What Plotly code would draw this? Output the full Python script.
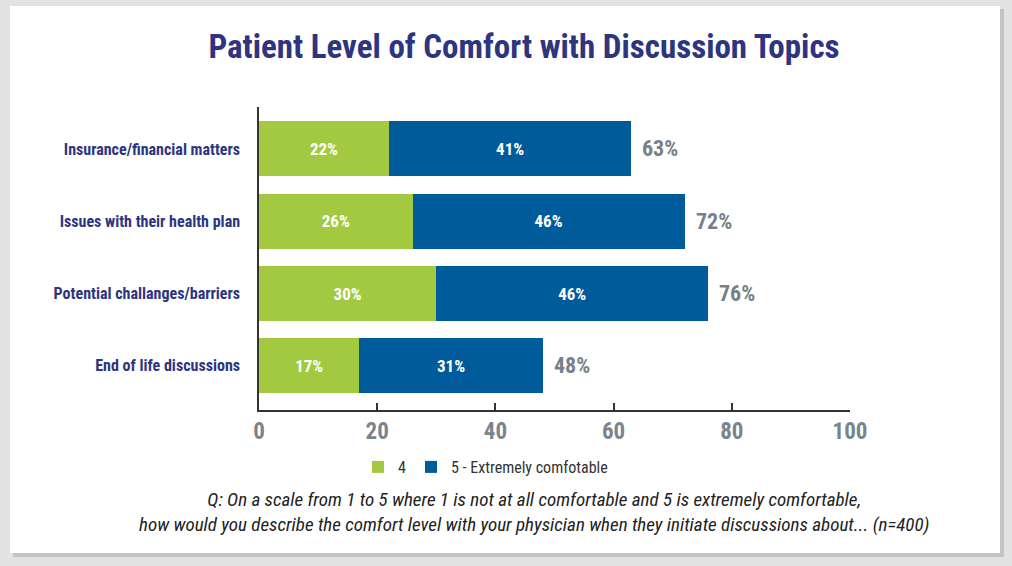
import plotly.graph_objects as go

categories = ["Insurance/financial matters", "Issues with their health plan",
              "Potential challanges/barriers", "End of life discussions"]
rating_4 = [22, 26, 30, 17]
rating_5 = [41, 46, 46, 31]
series_names = ["4", "5 - Extremely comfotable"]
x_ticks = [0, 20, 40, 60, 80, 100]

totals = [a + b for a, b in zip(rating_4, rating_5)]

COND = "Roboto Condensed, Open Sans Condensed, sans-serif"
GREEN = "#a3c940"
BLUE = "#005b9a"
NAVY = "#2e3580"
GRAY = "#76808a"

fig = go.Figure()
for vals, name, color in [(rating_4, series_names[0], GREEN), (rating_5, series_names[1], BLUE)]:
    fig.add_trace(go.Bar(
        y=categories, x=vals, orientation="h", name=name,
        marker=dict(color=color, line=dict(width=0)),
        texttemplate="%{x}%", textposition="inside", insidetextanchor="middle",
        textangle=0, textfont=dict(family=COND, size=17, color="white", weight="bold"),
        hoverinfo="skip",
    ))

for c, t in zip(categories, totals):
    fig.add_annotation(x=t, y=c, xref="x", yref="y", text=f"{t}%", showarrow=False,
                       xanchor="left", xshift=9,
                       font=dict(family=COND, size=22, color=GRAY, weight="bold"))

# footnote
fig.add_annotation(
    x=(534 - 259) / 591, y=(410 - 512) / 303, xref="paper", yref="paper", showarrow=False,
    xanchor="center", yanchor="middle", align="center",
    text="<i>Q: On a scale from 1 to 5 where 1 is not at all comfortable and 5 is extremely comfortable,<br>"
         "how would you describe the comfort level with your physician when they initiate discussions about... (n=400)</i>",
    font=dict(family=COND, size=19, color="#222222"),
)

# panel background and shadow
fig.add_shape(type="rect", xref="paper", yref="paper", layer="below",
              x0=(13 - 259) / 591, x1=(1004 - 259) / 591,
              y0=(410 - 557) / 303, y1=(410 - 9) / 303,
              fillcolor="#c4c4c4", line=dict(width=0))
fig.add_shape(type="rect", xref="paper", yref="paper", layer="below",
              x0=(10 - 259) / 591, x1=(1000 - 259) / 591,
              y0=(410 - 553) / 303, y1=(410 - 6) / 303,
              fillcolor="white", line=dict(width=0))

fig.update_layout(
    width=1012, height=566,
    margin=dict(l=259, r=162, t=107, b=156),
    paper_bgcolor="#e2e2e2", plot_bgcolor="rgba(0,0,0,0)",
    barmode="stack", bargap=0.24,
    title=dict(text="Patient Level of Comfort with Discussion Topics",
               x=524 / 1012, xanchor="center", y=1 - 46 / 566, yanchor="middle",
               font=dict(family=COND, size=33, color=NAVY, weight="bold")),
    showlegend=True,
    legend=dict(orientation="h", x=(358 - 259) / 591, xanchor="left",
                y=(410 - 467) / 303, yanchor="middle",
                font=dict(family=COND, size=16, color="#333333"),
                bgcolor="rgba(0,0,0,0)", traceorder="normal",
                itemwidth=30, entrywidth=0),
    xaxis=dict(range=[0, 100], tickvals=x_ticks, showgrid=False, zeroline=False,
               showline=True, linecolor="#333333", linewidth=1.5,
               ticks="inside", ticklen=7, tickcolor="#333333", tickwidth=1.5,
               tickfont=dict(family=COND, size=23, color="#7a848c", weight="bold"),
               fixedrange=True),
    yaxis=dict(categoryorder="array", categoryarray=categories,
               range=[3.61, -0.58], showgrid=False, zeroline=False,
               showline=True, linecolor="#333333", linewidth=1.5, ticks="",
               ticklabelstandoff=14,
               tickfont=dict(family=COND, size=16, color=NAVY, weight="bold"),
               fixedrange=True),
)

fig.write_html("out.html", config={"displayModeBar": False},
               post_script="document.body.style.margin='0';")
